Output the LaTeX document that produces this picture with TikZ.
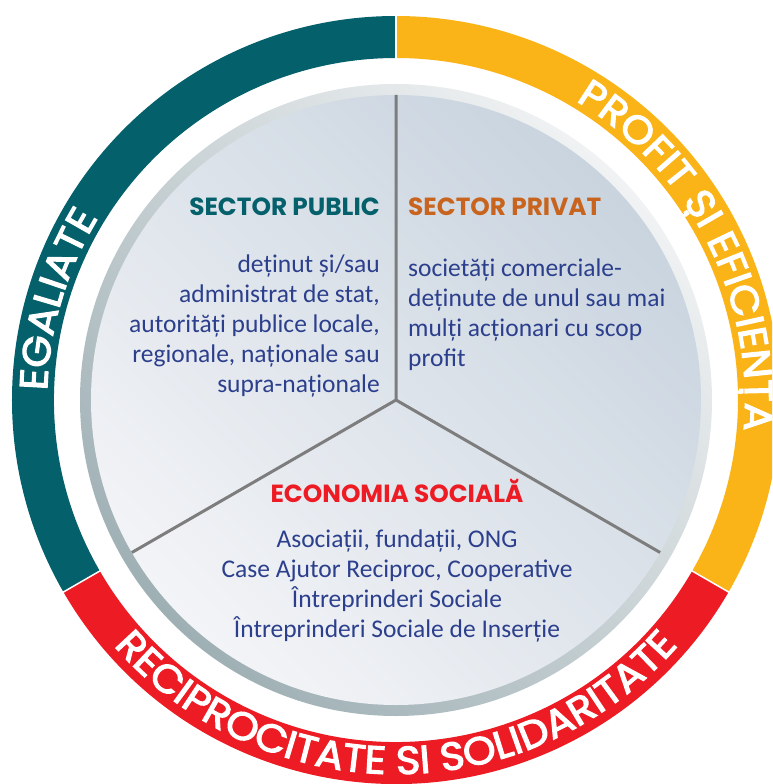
\documentclass[tikz,border=0pt]{standalone}
\usepackage{fontspec}
\setmainfont{Carlito}
\newfontfamily\headfont{Poppins}
\newfontfamily\ringfont{Poppins}[FakeBold=3, FakeStretch=1.07]
\usetikzlibrary{decorations.text, calc}
\definecolor{cteal}{HTML}{04606A}
\definecolor{cyellow}{HTML}{FBB417}
\definecolor{cred}{HTML}{ED1C24}
\definecolor{corange}{HTML}{C8641E}
\definecolor{cnavy}{HTML}{2C3F8C}
\definecolor{cgrey}{HTML}{7D7D7D}
\definecolor{crimlight}{HTML}{F0F2F3}
\definecolor{crimdark}{HTML}{9FB0B5}
\definecolor{cdisclight}{HTML}{F3F4F7}
\definecolor{cdiscdark}{HTML}{C9D4DF}
\tikzset{
  every picture/.style={x=1pt, y=1pt},
  head/.style={font=\headfont\bfseries\fontsize{24.8}{24.8}\selectfont, text=#1, inner sep=0pt},
  body/.style={font=\fontsize{25.5}{30}\selectfont, text=cnavy, inner sep=0pt},
  divider/.style={draw=cgrey, line width=3pt},
  ringtext/.style={decorate, decoration={text along path, text align=center, text color=white,
    text={|\ringfont\fontsize{39}{39}\selectfont|#1}}},
}

\begin{document}
\begin{tikzpicture}
  \clip (-396,-384) rectangle (376,400);
  \fill[white] (-396,-384) rectangle (376,400);
  \coordinate (c) at (0,0);
  % outer ring
  \foreach \a/\col in {90/cteal, 210/cred, -30/cyellow}
    \fill[\col] (\a:384) arc[start angle=\a, delta angle=120, radius=384]
      -- (\a+120:342) arc[start angle=\a+120, delta angle=-120, radius=342] -- cycle;
  \foreach \a in {90, 210, -30}
    \draw[white, line width=1.5pt] (\a:340) -- (\a:386);
  \path[ringtext={EGALIATE}] (190:349) arc[start angle=190, end angle=137, radius=349];
  \path[ringtext={PROFIT ȘI EFICIENȚA}] (77:349) arc[start angle=77, end angle=-23, radius=349];
  \path[ringtext={RECIPROCITATE SI SOLIDARITATE}] (205:374) arc[start angle=205, end angle=335, radius=374];
  % disc
  \shade[top color=crimlight, bottom color=crimdark, shading angle=-45] (c) circle[radius=316];
  \shade[top color=cdiscdark, bottom color=cdisclight, shading angle=-45] (c) circle[radius=305];
  \coordinate (up) at (90:305);
  \coordinate (left) at (210:305);
  \coordinate (right) at (330:305);
  \draw[divider] (up) -- (c) -- (left);
  \draw[divider] (c) -- (right);
  % sectors
  \node[head=cteal, anchor=base east] (pubhead) at (-16,184) {SECTOR PUBLIC};
  \node[body, align=right, anchor=north east] (pubtext) at (-16,145.6)
    {deținut și/sau\\administrat de stat,\\autorități publice locale,\\regionale, naționale sau\\supra-naționale};
  \node[head=corange, anchor=base west] (privhead) at (12,184) {SECTOR PRIVAT};
  \node[body, align=left, anchor=north west] (privtext) at (12,141.6)
    {societăți comerciale-\\deținute de unul sau mai\\mulți acționari cu scop\\profit};
  \node[head=cred, anchor=base] (sochead) at (1,-102) {ECONOMIA SOCIALĂ};
  \node[body, align=center, anchor=north] (soctext) at (1,-129.4)
    {Asociații, fundații, ONG\\Case Ajutor Reciproc, Cooperative\\Întreprinderi Sociale\\Întreprinderi Sociale de Inserție};
\end{tikzpicture}
\end{document}
